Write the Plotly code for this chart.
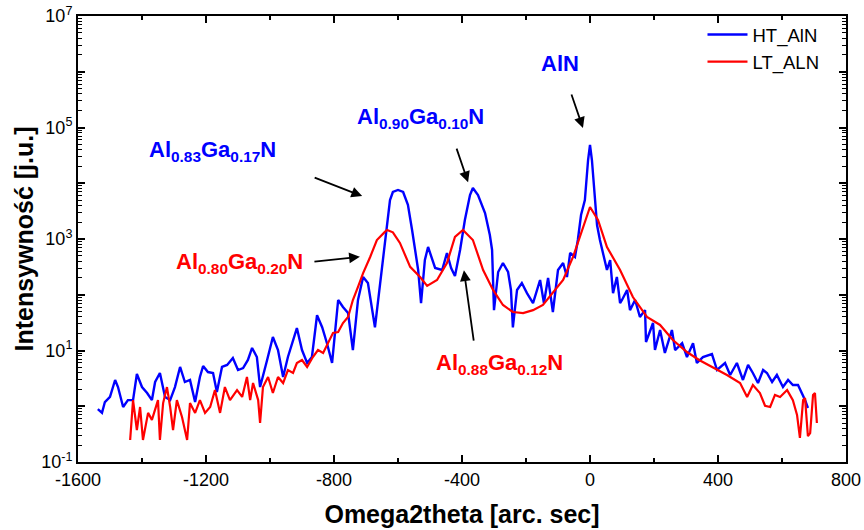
import plotly.graph_objects as go

# ---- data ----
ht_x = [-1538,-1525,-1516,-1500,-1484,-1475,-1459,-1444,-1428,-1416,-1400,-1384,-1369,-1359,-1344,-1328,-1312,-1297,-1281,-1266,
        -1250,-1234,-1219,-1209,-1194,-1178,-1166,-1150,-1134,-1116,-1100,-1084,-1069,-1056,-1041,-1031,-1009,-991,-975,-959,
        -944,-916,-900,-884,-869,-853,-837,-822,-806,-787,-772,-756,-741,-725,-709,-694,-672,-650,-625,-616,
        -600,-584,-569,-556,-537,-528,-516,-506,-494,-484,-462,-447,-434,-422,-406,-391,-375,-366,-350,-328,
        -313,-306,-300,-287,-272,-256,-247,-241,-228,-213,-197,-178,-156,-144,-131,-116,-100,-84,-72,-62,
        -47,-38,-28,-16,-6,0,6,16,22,31,41,53,63,72,84,94,100,116,125,141,
        156,172,175,197,203,219,234,256,266,288,303,322,334,353,381,397,422,438,459,478,
        494,509,525,541,553,569,584,603,619,634,650,663,672,681]
ht_y = [0.89,0.76,1.19,1.47,2.96,2.21,0.97,1.29,1.29,3.79,2.21,1.73,1.29,2.72,3.95,1.47,1.29,2.21,5.06,2.72,
        2.96,1.19,3.35,5.27,4.11,3.95,1.80,5.06,5.50,7.33,4.47,4.85,6.76,11.1,7.64,2.21,6.76,17.5,10.2,3.35,
        7.64,25.3,10.2,5.97,7.64,42.9,26.1,13.5,5.97,80.5,60.3,47.1,10.2,80.5,208,162,26.1,316,5000,6970,
        7570,6970,4100,1450,278,71,420,719,456,302,278,561,302,217,636,2190,6150,8220,6150,2920,
        1180,636,53,256,371,256,122,26,122,162,107,71,184,71,200,49,278,371,208,561,
        476,960,2690,5010,26100,48600,26100,5660,1780,960,516,278,420,107,208,71,80.5,122,53,80.5,
        39.9,53,14.2,31.1,10.2,23.3,9.03,23.3,10.2,13.5,7.64,13.5,5.97,7.64,8.65,4.47,5.97,3.64,5.97,2.96,
        5.5,3.95,2.61,4.47,3.95,2.72,3.64,2.21,2.96,2.40,2.40,1.73,1.29,0.93]

lt_x = [-1437,-1428,-1416,-1406,-1397,-1381,-1369,-1350,-1344,-1334,-1322,-1312,-1303,-1291,-1275,-1266,-1259,-1250,-1234,-1219,
        -1203,-1187,-1172,-1156,-1141,-1125,-1103,-1087,-1072,-1062,-1053,-1037,-1031,-1022,-1006,-991,-975,-959,-944,-928,
        -916,-900,-884,-866,-850,-834,-819,-803,-787,-772,-756,-741,-725,-709,-687,-666,-641,-634,-616,-594,
        -562,-531,-509,-478,-447,-422,-397,-366,-334,-303,-272,-241,-209,-178,-147,-116,-84,-53,-22,0,
        25,53,94,134,178,219,259,303,341,384,428,469,491,509,531,547,563,578,594,616,
        634,647,656,666,672,681,688,697,703,709]
lt_y = [0.248,1.29,0.375,0.97,0.248,0.76,0.569,1.29,0.248,1.14,2.21,0.97,0.375,1.29,0.643,0.375,0.248,1.14,0.76,1.29,
        0.76,0.97,1.95,0.76,2.21,1.29,1.95,1.47,3.35,1.29,2.61,1.29,0.50,2.21,3.35,1.73,3.35,2.61,4.47,3.95,
        5.97,6.76,5.06,7.64,10.2,9.03,13.5,20.7,21.5,31.1,39.9,80.5,138,245,476,960,1340,1450,1320,850,
        316,208,144,184,371,1090,1450,960,278,122,65.5,49,47,53,65.5,108,184,476,1640,3750,
        2190,718,278,91,40,28.7,15.4,9.4,6.76,5.06,3.64,2.61,1.47,2.40,1.73,1.02,0.97,1.6,1.47,1.95,
        1.29,0.70,0.27,1.29,1.4,0.29,0.33,1.6,1.73,0.50]

series_names = ["HT_AlN", "LT_ALN"]
x_ticks = [-1600, -1200, -800, -400, 0, 400, 800]
x_ticktext = ["-1600", "-1200", "-800", "-400", "0", "400", "800"]
y_ticks = [0.1, 1, 10, 100, 1e3, 1e4, 1e5, 1e6, 1e7]
y_ticktext = ["10<sup>-1</sup>", "", "10<sup>1</sup>", "", "10<sup>3</sup>", "", "10<sup>5</sup>", "", "10<sup>7</sup>"]

FONT = "Liberation Sans, Arial, sans-serif"
BLUE = "#0000FF"
RED = "#FF0000"

fig = go.Figure()
fig.add_trace(go.Scatter(x=ht_x, y=ht_y, mode="lines", name=series_names[0],
                         line=dict(color=BLUE, width=2.4)))
fig.add_trace(go.Scatter(x=lt_x, y=lt_y, mode="lines", name=series_names[1],
                         line=dict(color=RED, width=2.2)))

y_minor = [m * 10 ** k for k in range(-1, 7) for m in range(2, 10)]

fig.update_layout(
    width=864, height=530,
    margin=dict(l=78, r=18, t=16, b=68, autoexpand=False),
    paper_bgcolor="white", plot_bgcolor="white",
    font=dict(family=FONT, size=18, color="black"),
    showlegend=True,
    legend=dict(x=0.972, y=1.0, xanchor="right", yanchor="top", bgcolor="rgba(0,0,0,0)",
                font=dict(size=18.5), tracegroupgap=0, itemwidth=40),
    xaxis=dict(range=[-1600, 800], tickmode="array", tickvals=x_ticks, ticktext=x_ticktext,
               ticks="inside", ticklen=7, tickwidth=1.5, tickcolor="black",
               minor=dict(ticks="inside", ticklen=4, tickwidth=1.5, tickcolor="black",
                          tickmode="array", tickvals=[-1400, -1000, -600, -200, 200, 600]),
               showline=True, linecolor="black", linewidth=2, mirror="allticks",
               showgrid=False, zeroline=False, automargin=False,
               title=dict(text="Omega2theta [arc. sec]", font=dict(size=25, weight="bold"), standoff=17),
               tickfont=dict(size=18)),
    yaxis=dict(type="log", range=[-1, 7], tickmode="array", tickvals=y_ticks, ticktext=y_ticktext,
               ticks="inside", ticklen=7, tickwidth=1.5, tickcolor="black",
               minor=dict(ticks="inside", ticklen=4, tickwidth=1, tickcolor="black",
                          tickmode="array", tickvals=y_minor),
               showline=True, linecolor="black", linewidth=2, mirror="allticks",
               showgrid=False, zeroline=False, automargin=False,
               title=dict(text="Intensywność [j.u.]", font=dict(size=25, weight="bold"), standoff=0),
               tickfont=dict(size=18)),
)

def label(text, x, logy, color):
    fig.add_annotation(x=x, y=logy, xref="x", yref="y", text=text, showarrow=False,
                       font=dict(size=22, color=color, family=FONT, weight="bold"),
                       xanchor="center", yanchor="middle")

def arrow(x, logy, ax, ay):
    fig.add_annotation(x=x, y=logy, xref="x", yref="y", text="", showarrow=True,
                       ax=ax, ay=ay, arrowhead=2, arrowsize=1.2, arrowwidth=1.8, arrowcolor="black")

label("Al<sub>0.83</sub>Ga<sub>0.17</sub>N", -1180, 4.58, BLUE)
arrow(-712, 3.77, -49, -19)
label("Al<sub>0.90</sub>Ga<sub>0.10</sub>N", -531, 5.17, BLUE)
arrow(-381, 4.02, -12, -35)
label("AlN", -94, 6.14, BLUE)
arrow(-22, 4.99, -12, -35)
label("Al<sub>0.80</sub>Ga<sub>0.20</sub>N", -1094, 2.57, RED)
arrow(-719, 2.68, -47, 5)
label("Al<sub>0.88</sub>Ga<sub>0.12</sub>N", -284, 0.76, RED)
arrow(-394, 2.44, 10, 72)

fig.write_html("out.html", config={"displayModeBar": False},
               post_script="document.body.style.margin='0';document.body.style.overflow='hidden';")
